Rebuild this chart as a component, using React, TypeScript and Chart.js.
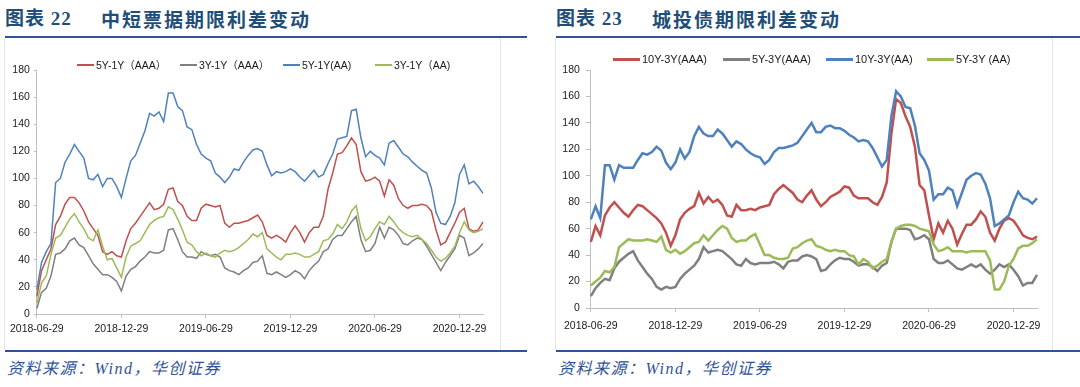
import React, { useEffect, useRef } from 'react';
import { Chart, registerables } from 'chart.js';

Chart.register(...registerables);

// ---------- categories (3 points per month, from 2018-06-29) ----------
const monthNames = ['01', '02', '03', '04', '05', '06', '07', '08', '09', '10', '11', '12'];
function buildCategories(count: number): string[] {
  const out: string[] = [];
  let y = 2018;
  let m = 5; // June (0-based)
  while (out.length < count) {
    out.push(`${y}-${monthNames[m]}-${m === 1 ? '28' : '29'}`);
    m += 1;
    if (m > 11) { m = 0; y += 1; }
    if (out.length < count) out.push(`${y}-${monthNames[m]}-09`);
    if (out.length < count) out.push(`${y}-${monthNames[m]}-19`);
  }
  return out;
}
const categories: string[] = buildCategories(96);
const tickEvery = 18;
const xTickLabels = ['2018-06-29', '2018-12-29', '2019-06-29', '2019-12-29', '2020-06-29', '2020-12-29'];

// ---------- 图表 22 中短票据期限利差变动 ----------
const s5y1yAAA = [13, 32, 40, 48, 66, 72, 81, 86, 86, 82, 76, 68, 63, 58, 46, 44, 46, 43, 42, 54, 63, 67, 72, 77, 82, 77, 78, 81, 92, 93, 83, 80, 72, 69, 69, 78, 81, 80, 79, 80, 67, 64, 67, 67, 68, 69, 71, 73, 68, 58, 56, 58, 56, 53, 60, 65, 60, 53, 60, 64, 64, 72, 92, 104, 118, 119, 124, 130, 125, 105, 98, 99, 101, 98, 87, 99, 95, 85, 80, 78, 80, 80, 81, 80, 76, 62, 51, 53, 60, 67, 75, 78, 63, 61, 62, 68];
const s3y1yAAA = [4, 16, 19, 28, 44, 45, 48, 54, 56, 51, 49, 43, 37, 33, 29, 29, 27, 24, 17, 28, 33, 35, 39, 42, 46, 45, 45, 47, 62, 63, 55, 46, 42, 42, 41, 46, 44, 43, 44, 42, 34, 32, 31, 29, 32, 34, 38, 39, 43, 30, 29, 31, 29, 27, 29, 32, 30, 26, 32, 36, 39, 46, 48, 55, 58, 58, 63, 68, 72, 55, 46, 47, 52, 64, 56, 64, 62, 58, 52, 51, 54, 56, 55, 50, 44, 38, 32, 38, 43, 48, 58, 56, 43, 45, 48, 52];
const s5y1yAA = [18, 38, 46, 52, 97, 100, 112, 118, 125, 120, 115, 100, 99, 103, 94, 100, 100, 94, 86, 100, 113, 117, 126, 135, 148, 146, 149, 142, 163, 163, 153, 150, 138, 136, 125, 118, 115, 113, 104, 101, 97, 101, 107, 106, 112, 117, 121, 122, 120, 110, 102, 105, 104, 105, 107, 105, 101, 98, 102, 106, 101, 103, 111, 118, 129, 130, 131, 150, 151, 130, 116, 120, 117, 115, 110, 126, 128, 123, 118, 116, 112, 109, 106, 104, 93, 75, 67, 66, 72, 82, 103, 110, 96, 98, 94, 89];
const s3y1yAA = [8, 23, 28, 44, 56, 58, 64, 70, 74, 68, 63, 56, 54, 62, 50, 40, 41, 34, 27, 42, 50, 52, 54, 60, 66, 69, 71, 72, 79, 77, 70, 62, 53, 51, 46, 43, 45, 43, 42, 45, 47, 46, 47, 49, 52, 55, 59, 57, 60, 48, 45, 42, 40, 44, 44, 45, 44, 42, 42, 44, 46, 54, 55, 59, 66, 63, 68, 76, 80, 63, 54, 57, 63, 68, 66, 72, 68, 63, 60, 58, 57, 58, 55, 52, 47, 42, 39, 41, 45, 50, 60, 68, 62, 60, 61, 63];

// ---------- 图表 23 城投债期限利差变动 ----------
const s10y3yAAA = [50, 62, 55, 70, 76, 80, 76, 72, 69, 74, 78, 77, 74, 71, 68, 64, 57, 47, 55, 67, 72, 75, 77, 87, 79, 84, 80, 82, 78, 70, 69, 78, 74, 74, 75, 74, 76, 77, 78, 86, 90, 93, 90, 87, 82, 80, 85, 89, 82, 77, 80, 84, 86, 88, 92, 91, 85, 83, 83, 83, 80, 78, 84, 95, 132, 158, 155, 145, 137, 122, 93, 89, 70, 52, 64, 57, 66, 60, 48, 56, 63, 63, 67, 73, 69, 57, 51, 60, 66, 68, 66, 61, 55, 53, 52, 54];
const s5y3yAAA = [9, 15, 19, 22, 21, 30, 35, 38, 41, 43, 36, 31, 26, 22, 16, 14, 16, 15, 16, 22, 26, 29, 32, 37, 46, 42, 43, 44, 43, 40, 37, 33, 32, 37, 34, 33, 34, 34, 34, 35, 33, 30, 35, 36, 36, 39, 40, 39, 37, 28, 29, 33, 36, 38, 37, 37, 35, 32, 33, 33, 31, 28, 32, 34, 50, 60, 60, 60, 59, 52, 53, 55, 52, 37, 34, 34, 36, 33, 30, 29, 31, 33, 31, 33, 29, 26, 29, 33, 31, 33, 29, 24, 17, 19, 19, 25];
const s10y3yAA = [67, 77, 68, 108, 108, 97, 108, 106, 106, 106, 112, 117, 116, 118, 122, 119, 110, 105, 110, 120, 113, 118, 130, 137, 132, 130, 130, 135, 132, 127, 122, 126, 124, 120, 117, 115, 114, 109, 112, 118, 121, 121, 122, 123, 125, 130, 135, 140, 133, 133, 137, 138, 136, 136, 134, 131, 129, 126, 127, 126, 121, 114, 107, 112, 145, 164, 160, 152, 151, 138, 117, 112, 104, 82, 86, 86, 91, 89, 77, 87, 97, 100, 102, 101, 94, 83, 62, 64, 67, 70, 80, 88, 83, 82, 79, 83];
const s5y3yAA = [17, 20, 23, 28, 27, 31, 46, 49, 52, 51, 51, 51, 52, 51, 50, 54, 44, 42, 44, 41, 43, 46, 49, 50, 55, 51, 55, 59, 62, 60, 53, 50, 51, 51, 54, 56, 48, 40, 40, 38, 37, 37, 38, 45, 46, 49, 51, 52, 47, 46, 44, 43, 44, 43, 43, 40, 39, 33, 37, 35, 30, 32, 35, 37, 50, 60, 62, 63, 63, 62, 60, 59, 58, 48, 43, 44, 46, 43, 43, 43, 42, 43, 43, 43, 43, 36, 14, 14, 20, 32, 37, 45, 47, 47, 49, 52];

const RED = '#C0504D';
const GRAY = '#7F7F7F';
const BLUE = '#4F81BD';
const GREEN = '#9BBB59';
const AXIS = '#BFBFBF';
const TEXT = '#1a1a1a';
const TITLE_BLUE = '#1F4E79';
const RULE_BLUE = '#2F5496';

type SeriesDef = { label: string; data: number[]; color: string };

type ChartCfg = {
  left: number;
  top: number;
  width: number;
  height: number;
  yAxisWidth: number;
  xAxisHeight: number;
  padTop: number;
  padRight: number;
  lineWidth: number;
  xPad: number;
  yPad: number;
  yTick: number;
  fontSize: number;
  series: SeriesDef[];
};

function LineChart({ cfg }: { cfg: ChartCfg }) {
  const ref = useRef<HTMLCanvasElement | null>(null);
  useEffect(() => {
    if (!ref.current) return;
    const n = cfg.series.length;
    const chart = new Chart(ref.current, {
      type: 'line',
      data: {
        labels: categories,
        datasets: cfg.series.map((s, i) => ({
          label: s.label,
          data: s.data,
          borderColor: s.color,
          backgroundColor: s.color,
          borderWidth: cfg.lineWidth,
          pointRadius: 0,
          tension: 0,
          fill: false,
          order: n - i,
        })),
      },
      options: {
        responsive: false,
        animation: false,
        devicePixelRatio: 1,
        layout: { padding: { left: 0, right: cfg.padRight, top: cfg.padTop, bottom: 0 } },
        plugins: { legend: { display: false }, tooltip: { enabled: false } },
        scales: {
          x: {
            type: 'category',
            offset: false,
            grid: {
              display: true,
              drawOnChartArea: false,
              drawTicks: true,
              tickLength: 4,
              tickColor: (ctx: any) => (ctx.index % tickEvery === 0 ? AXIS : 'rgba(0,0,0,0)'),
            },
            border: { display: true, color: AXIS, width: 1 },
            ticks: {
              autoSkip: false,
              maxRotation: 0,
              minRotation: 0,
              padding: cfg.xPad,
              color: TEXT,
              font: { family: 'Liberation Sans, Arial, sans-serif', size: cfg.fontSize },
              callback: (_v: any, i: number) => (i % tickEvery === 0 ? xTickLabels[i / tickEvery] : ''),
            },
            afterFit: (s: any) => { s.height = cfg.xAxisHeight; },
          },
          y: {
            min: 0,
            max: 180,
            grid: { display: true, drawOnChartArea: false, drawTicks: true, tickLength: cfg.yTick, tickColor: AXIS },
            border: { display: true, color: AXIS, width: 1 },
            ticks: {
              stepSize: 20,
              padding: cfg.yPad,
              color: TEXT,
              font: { family: 'Liberation Sans, Arial, sans-serif', size: cfg.fontSize },
            },
            afterFit: (s: any) => { s.width = cfg.yAxisWidth; },
          },
        },
      },
    });
    return () => chart.destroy();
  }, [cfg]);
  return (
    <canvas
      ref={ref}
      width={cfg.width}
      height={cfg.height}
      style={{ position: 'absolute', left: cfg.left, top: cfg.top, width: cfg.width, height: cfg.height }}
    />
  );
}

type LegendItem = { x: number; text: string; color: string };

function Legend({ items, y, lineLen, thick, fontSize, family }: { items: LegendItem[]; y: number; lineLen: number; thick: number; fontSize: number; family: string }) {
  return (
    <>
      {items.map((it) => (
        <div key={it.text} style={{ position: 'absolute', left: it.x, top: y - 8, height: 16, display: 'flex', alignItems: 'center', whiteSpace: 'nowrap' }}>
          <div style={{ width: lineLen, height: thick, background: it.color, marginRight: 2 }} />
          <span style={{ fontSize, fontFamily: family, color: TEXT, lineHeight: '16px' }}>{it.text}</span>
        </div>
      ))}
    </>
  );
}

function Panel({ x0, x1, boxRight, num, title, titleOffset }: { x0: number; x1: number; boxRight: number; num: string; title: string; titleOffset: number }) {
  return (
    <>
      <div style={{ position: 'absolute', left: x0, top: 7, fontFamily: '"Liberation Serif", "Noto Sans CJK SC", serif', fontWeight: 700, fontSize: 19, color: TITLE_BLUE, letterSpacing: 1, lineHeight: '24px', whiteSpace: 'nowrap' }}>
        {'图表 ' + num}
      </div>
      <div style={{ position: 'absolute', left: x0 + titleOffset, top: 7, fontFamily: '"Noto Sans CJK SC", sans-serif', fontWeight: 700, fontSize: 19, color: TITLE_BLUE, letterSpacing: 2, lineHeight: '24px', whiteSpace: 'nowrap' }}>
        {title}
      </div>
      <div style={{ position: 'absolute', left: x0, top: 36, width: x1 - x0, height: 2, background: RULE_BLUE }} />
      <div style={{ position: 'absolute', left: x0 - 1, top: 38, width: 1, height: 312, background: '#E3E3E3' }} />
      <div style={{ position: 'absolute', left: boxRight, top: 38, width: 1, height: 312, background: '#E3E3E3' }} />
      <div style={{ position: 'absolute', left: x0, top: 350, width: x1 - x0, height: 2, background: RULE_BLUE }} />
      <div style={{ position: 'absolute', left: x0 + 2, top: 358, fontFamily: '"Liberation Serif", "Noto Sans CJK SC", serif', fontStyle: 'italic', fontSize: 16, letterSpacing: 1.5, color: RULE_BLUE, lineHeight: '22px', whiteSpace: 'nowrap' }}>
        资料来源：Wind，华创证券
      </div>
    </>
  );
}

const leftCfg: ChartCfg = {
  left: 5, top: 56, width: 495, height: 294,
  yAxisWidth: 29, xAxisHeight: 36, padTop: 14, padRight: 17,
  lineWidth: 1.5, xPad: 5, yPad: 4, yTick: 3, fontSize: 10.5,
  series: [
    { label: '5Y-1Y（AAA）', data: s5y1yAAA, color: RED },
    { label: '3Y-1Y（AAA）', data: s3y1yAAA, color: GRAY },
    { label: '5Y-1Y(AA)', data: s5y1yAA, color: BLUE },
    { label: '3Y-1Y（AA)', data: s3y1yAA, color: GREEN },
  ],
};

const rightCfg: ChartCfg = {
  left: 556, top: 56, width: 496, height: 294,
  yAxisWidth: 32, xAxisHeight: 42, padTop: 14, padRight: 15,
  lineWidth: 2.5, xPad: 8, yPad: 6, yTick: 5, fontSize: 10.5,
  series: [
    { label: '10Y-3Y(AAA)', data: s10y3yAAA, color: RED },
    { label: '5Y-3Y(AAA)', data: s5y3yAAA, color: GRAY },
    { label: '10Y-3Y(AA)', data: s10y3yAA, color: BLUE },
    { label: '5Y-3Y (AA)', data: s5y3yAA, color: GREEN },
  ],
};

const leftLegend: LegendItem[] = [
  { x: 77, text: '5Y-1Y（AAA）', color: RED },
  { x: 180, text: '3Y-1Y（AAA）', color: GRAY },
  { x: 283, text: '5Y-1Y(AA)', color: BLUE },
  { x: 375, text: '3Y-1Y（AA)', color: GREEN },
];

const rightLegend: LegendItem[] = [
  { x: 613, text: '10Y-3Y(AAA)', color: RED },
  { x: 723, text: '5Y-3Y(AAA)', color: GRAY },
  { x: 826, text: '10Y-3Y(AA)', color: BLUE },
  { x: 927, text: '5Y-3Y (AA)', color: GREEN },
];

export default function App() {
  return (
    <div style={{ position: 'absolute', left: 0, top: 0, width: 1080, height: 387, background: '#fff', overflow: 'hidden' }}>
      <Panel x0={5} x1={527} boxRight={500} num="22" title="中短票据期限利差变动" titleOffset={96} />
      <Panel x0={556} x1={1080} boxRight={1052} num="23" title="城投债期限利差变动" titleOffset={96} />
      <LineChart cfg={leftCfg} />
      <LineChart cfg={rightCfg} />
      <Legend items={leftLegend} y={65} lineLen={17} thick={2} fontSize={10.5} family='"Liberation Sans", "Noto Sans CJK SC", sans-serif' />
      <Legend items={rightLegend} y={59} lineLen={27} thick={3} fontSize={11} family='"Liberation Sans", sans-serif' />
    </div>
  );
}
